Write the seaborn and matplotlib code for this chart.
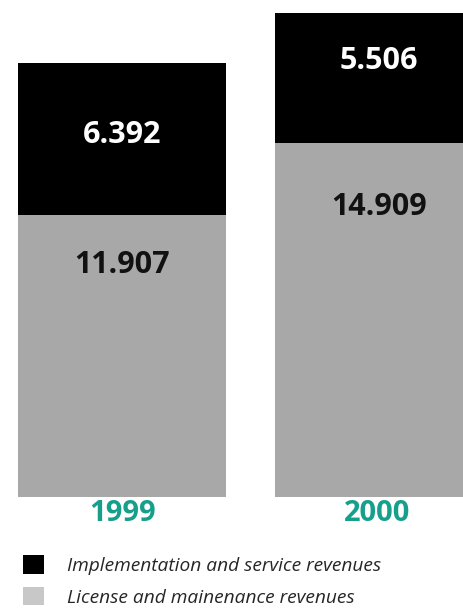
import matplotlib
matplotlib.use("Agg")
import matplotlib.pyplot as plt
from matplotlib.patches import Patch
import seaborn as sns
import pandas as pd

years = ["1999", "2000"]
license_rev = [11.907, 14.909]
impl_rev = [6.392, 5.506]
series_names = ["Implementation and service revenues", "License and mainenance revenues"]

BLACK = "#000000"
GRAY = "#a8a8a8"
GRAY_LEG = "#c8c8c8"
TEAL = "#16a08b"

sns.set_theme(style="white")
plt.rcParams["font.family"] = ["Open Sans", "DejaVu Sans"]

df = pd.DataFrame({"year": years, "license": license_rev, "impl": impl_rev})
df["total"] = df["license"] + df["impl"]

fig = plt.figure(figsize=(4.64, 6.08), dpi=100)
ax = fig.add_axes([0, (608 - 497) / 608, 1, 497 / 608])

sns.barplot(data=df, x="year", y="total", color=BLACK, width=0.81, ax=ax,
            saturation=1, edgecolor="none")
sns.barplot(data=df, x="year", y="license", color=GRAY, width=0.81, ax=ax,
            saturation=1, edgecolor="none")

ax.set_xlim(-0.475, 1.331)
ax.set_ylim(0, 20.95)
ax.set_xlabel("")
ax.set_ylabel("")
ax.set_yticks([])
ax.set_xticks([])
for s in ax.spines.values():
    s.set_visible(False)

# value labels (offset below each segment top, in points)
impl_off = [-52, -35]
lic_off = [-36, -46]
for i, y in enumerate(years):
    ax.annotate(f"{impl_rev[i]:.3f}", (i, df["total"][i]), xytext=(0, impl_off[i]),
                textcoords="offset points", ha="center", va="center",
                color="white", fontsize=22, fontweight="bold")
    ax.annotate(f"{license_rev[i]:.3f}", (i, license_rev[i]), xytext=(0, lic_off[i]),
                textcoords="offset points", ha="center", va="center",
                color="#111111", fontsize=22, fontweight="bold")
    ax.annotate(y, (i, 0), xytext=(-1.5 * i, -12), textcoords="offset points",
                ha="center", va="center", color=TEAL, fontsize=21, fontweight="bold",
                annotation_clip=False)

handles = [Patch(facecolor=BLACK, edgecolor="none"),
           Patch(facecolor=GRAY_LEG, edgecolor="none")]
fig.legend(handles, series_names, loc="upper left", bbox_to_anchor=(23 / 464, 1 - 555 / 608),
           frameon=False, prop={"style": "italic", "size": 13.8},
           handlelength=1.12, handleheight=1.12, handletextpad=1.2,
           labelspacing=0.62, borderaxespad=0, borderpad=0)

fig.savefig("out.png", dpi=100)
